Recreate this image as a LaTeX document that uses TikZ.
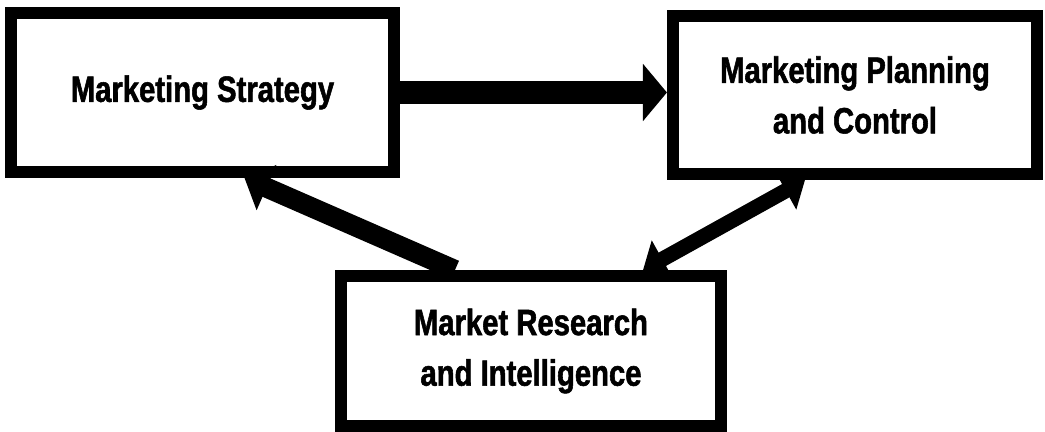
\documentclass[tikz,border=0pt]{standalone}
\usepackage{fontspec}
\newfontfamily\boxfont[FakeStretch=0.8, BoldFeatures={FakeBold=1.5}]{Liberation Sans}
\usetikzlibrary{arrows.meta}

\begin{document}
\begin{tikzpicture}[x = 0.025cm, y = -0.025cm,
  box/.style = {draw, line width = 0.3cm, rectangle, align = center,
    font = \boxfont\bfseries\fontsize{26}{36}\selectfont},
  bigarrow/.style = {line width = 0.55cm, -{Triangle[length = 0.6cm, width = 1.4cm]}}]
\useasboundingbox (0,0) rectangle (1045,432);
\node[box, minimum width = 9.575cm, minimum height = 3.975cm] (strategy) at (202.5,92.5) {Marketing Strategy};
\node[box, minimum width = 9.1cm, minimum height = 3.95cm] (planning) at (855,95) {Marketing Planning\\and Control};
\node[box, minimum width = 9.5cm, minimum height = 3.75cm] (research) at (531,351) {Market Research\\and Intelligence};
\draw [bigarrow] (strategy.east) -- (strategy.east -| planning.west);
\draw [bigarrow, line width = 0.5cm, -{Triangle[length = 0.6cm, width = 1.2cm]}] ([xshift = -1.9cm]research.north) -- ([xshift = 1.05cm]strategy.south);
\draw [line width = 0.38cm, {Triangle[length = 0.55cm, width = 1.05cm]}-{Triangle[length = 0.55cm, width = 1.05cm]}] ([xshift = 2.8cm]research.north) -- ([xshift = -1.25cm]planning.south);
\end{tikzpicture}
\end{document}
